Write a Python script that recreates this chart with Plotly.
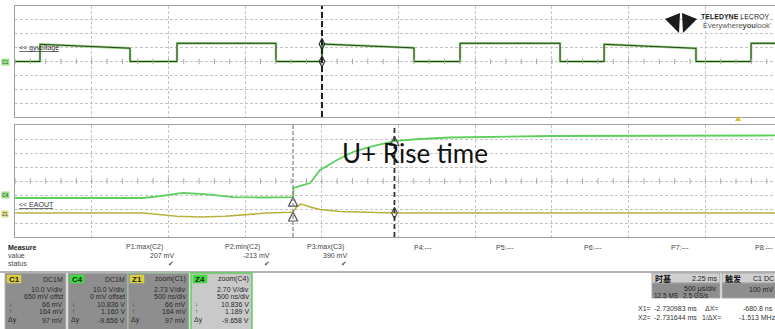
import numpy as np
import plotly.graph_objects as go

W, H = 775, 329

# ---------------- data: top panel (500 us/div, 10 V/div) ----------------
top_window_ms = [-4.732, 0.222]
pulse_rise_ms = [-4.569, -3.676, -2.731, -1.831, -0.892, 0.066]
pulse_fall_ms = [-3.982, -3.031, -2.131, -1.179, -0.293, None]
pulse_top_start_v = [12.4, 13.1, 12.6, 13.1, 12.4, 13.1]
pulse_top_end_v = [9.6, 13.1, 9.8, 13.1, 9.5, 13.1]
baseline_v = 0.0
top_cursor_ms = -2.731

# ---------------- data: bottom zoom panel (500 ns/div) ----------------
zoom_window_ns = [-1812.5, 3141.5]
z4_t_ns = [-1812, -1258, -978, -867, -717, -574, -391, -215, -13, 0, 3, 26, 78, 111,
           176, 287, 391, 502, 665, 828, 1023, 1349, 1675, 3142]
z4_v = [1.02, 1.02, 1.02, 1.40, 1.99, 1.75, 1.20, 1.12, 1.16, 1.19, 2.95, 3.14, 3.53, 3.91,
        6.42, 8.35, 9.89, 10.86, 12.02, 12.40, 12.69, 12.88, 12.98, 13.08]
z1_t_ns = [-1812, -978, -756, -606, -443, -170, -20, 0, 26, 52, 111, 176, 306, 502, 665, 3142]
z1_v = [-1.87, -1.87, -2.50, -2.64, -2.50, -1.87, -1.72, -1.68, -0.60, -0.14, -0.72, -1.20,
        -1.58, -1.77, -1.87, -1.87]
cursor_x2_ns = 0
cursor_x1_ns = 661

# measurement table
meas_names = ["P1:max(C2)", "P2:min(C2)", "P3:max(C3)", "P4:---", "P5:---", "P6:---", "P7:---", "P8:---"]
meas_values = ["207 mV", "-213 mV", "390 mV", "", "", "", "", ""]

# channel descriptor boxes
ch_tags = ["C1", "C4", "Z1", "Z4"]
ch_heads = ["DC1M", "DC1M", "zoom(C1)", "zoom(C4)"]
ch_line1 = ["10.0 V/div", "10.0 V/div", "2.73 V/div", "2.70 V/div"]
ch_line2 = ["650 mV offst", "0 mV offset", "500 ns/div", "500 ns/div"]
ch_low = ["66 mV", "10.836 V", "66 mV", "10.836 V"]
ch_high = ["164 mV", "1.160 V", "164 mV", "1.189 V"]
ch_dy = ["97 mV", "-9.656 V", "97 mV", "-9.658 V"]

# ---------------- build top waveform ----------------
tx, ty = [top_window_ms[0]], [baseline_v]
for r, f, a, b in zip(pulse_rise_ms, pulse_fall_ms, pulse_top_start_v, pulse_top_end_v):
    if f is None:
        tx += [r, r, top_window_ms[1]]
        ty += [baseline_v, a, b]
    else:
        tx += [r, r, f, f]
        ty += [baseline_v, a, b, baseline_v]
if pulse_fall_ms[-1] is not None:
    tx.append(top_window_ms[1]); ty.append(baseline_v)

fig = go.Figure()
fig.add_trace(go.Scatter(x=tx, y=ty, mode="lines", line=dict(color="#8fd47a", width=2.4),
                         xaxis="x", yaxis="y", hoverinfo="skip"))
fig.add_trace(go.Scatter(x=tx, y=ty, mode="lines", line=dict(color="#2f3d22", width=1),
                         xaxis="x", yaxis="y", hoverinfo="skip"))

# center-line tick marks
top_ticks = np.arange(top_window_ms[0], top_window_ms[1], 0.1)
fig.add_trace(go.Scatter(x=top_ticks, y=[0] * len(top_ticks), mode="markers",
                         marker=dict(symbol="line-ns", size=4, line=dict(color="#a8a8a8", width=1)),
                         xaxis="x", yaxis="y", hoverinfo="skip"))
bot_ticks = np.arange(zoom_window_ns[0], zoom_window_ns[1], 100)
fig.add_trace(go.Scatter(x=bot_ticks, y=[4.3] * len(bot_ticks), mode="markers",
                         marker=dict(symbol="line-ns", size=4, line=dict(color="#a8a8a8", width=1)),
                         xaxis="x2", yaxis="y2", hoverinfo="skip"))

fig.add_trace(go.Scatter(x=z1_t_ns, y=z1_v, mode="lines", line=dict(color="#b9b03c", width=1.6),
                         xaxis="x2", yaxis="y2", hoverinfo="skip"))
fig.add_trace(go.Scatter(x=z4_t_ns, y=z4_v, mode="lines", line=dict(color="#5ccf5c", width=1.8),
                         xaxis="x2", yaxis="y2", hoverinfo="skip"))

# cursor markers
fig.add_trace(go.Scatter(x=[cursor_x2_ns, cursor_x2_ns, cursor_x1_ns],
                         y=[z4_v[9], z1_v[7], 12.9], mode="markers",
                         marker=dict(symbol="arrow-up-open", size=9, color="#555",
                                     line=dict(width=1.2, color="#555")),
                         xaxis="x2", yaxis="y2", hoverinfo="skip"))
fig.add_trace(go.Scatter(x=[cursor_x1_ns], y=[-1.87], mode="markers",
                         marker=dict(symbol="diamond-tall-open", size=8, color="#555",
                                     line=dict(width=1.2, color="#555")),
                         xaxis="x2", yaxis="y2", hoverinfo="skip"))
fig.add_trace(go.Scatter(x=[top_cursor_ms, top_cursor_ms], y=[0, 12.6], mode="markers",
                         marker=dict(symbol="diamond-tall-open", size=8, color="#333",
                                     line=dict(width=1.2, color="#333")),
                         xaxis="x", yaxis="y", hoverinfo="skip"))

grid = dict(showgrid=True, gridcolor="#c4c4c4", griddash="3px,2px", gridwidth=1,
            zeroline=False, showticklabels=False, ticks="", showline=True, mirror=True,
            linecolor="#a0a0a0", linewidth=1)
xdom = [15 / W, 1]
fig.update_layout(
    width=W, height=H, margin=dict(l=0, r=0, t=0, b=0),
    paper_bgcolor="white", plot_bgcolor="white", showlegend=False,
    xaxis=dict(domain=xdom, range=top_window_ms, dtick=0.5, tick0=top_window_ms[0],
               anchor="y", **grid),
    yaxis=dict(domain=[1 - 117 / H, 1 - 6 / H], range=[-40, 40], dtick=10, tick0=-40,
               anchor="x", **grid),
    xaxis2=dict(domain=xdom, range=zoom_window_ns, dtick=500, tick0=zoom_window_ns[0],
                anchor="y2", **grid),
    yaxis2=dict(domain=[1 - 237 / H, 1 - 125 / H], range=[-6.5, 15.1], dtick=2.7, tick0=-6.5,
                anchor="x2", **grid),
)

shapes = []
# cursors
shapes.append(dict(type="line", xref="x", yref="y domain", x0=top_cursor_ms, x1=top_cursor_ms,
                   y0=0, y1=1, line=dict(color="#1e1e1e", width=2, dash="6px,3px")))
shapes.append(dict(type="line", xref="x2", yref="y2 domain", x0=cursor_x2_ns, x1=cursor_x2_ns,
                   y0=0, y1=1, line=dict(color="#8a8a8a", width=1.3, dash="4px,2px")))
shapes.append(dict(type="line", xref="x2", yref="y2 domain", x0=cursor_x1_ns, x1=cursor_x1_ns,
                   y0=0, y1=1, line=dict(color="#333", width=1.8, dash="5px,3px")))


def P(x, y):
    return x / W, 1 - y / H


def rect(x0, y0, x1, y1, fill, line="#b0b0b0", lw=1):
    a, b = P(x0, y1)
    c, d = P(x1, y0)
    shapes.append(dict(type="rect", xref="paper", yref="paper", x0=a, y0=b, x1=c, y1=d,
                       fillcolor=fill, line=dict(color=line, width=lw), layer="above"))


def poly(pts, fill):
    s = "M " + " L ".join(f"{P(x, y)[0]:.5f},{P(x, y)[1]:.5f}" for x, y in pts) + " Z"
    shapes.append(dict(type="path", xref="paper", yref="paper", path=s, fillcolor=fill,
                       line=dict(width=0), layer="above"))


ann = []


def txt(x, y, s, size=7, color="#333", anchor="left", family="Arial", bg=None):
    a, b = P(x, y)
    d = dict(xref="paper", yref="paper", x=a, y=b, text=s, showarrow=False,
             xanchor=anchor, yanchor="middle", font=dict(size=size, color=color, family=family),
             borderpad=0)
    if bg:
        d["bgcolor"] = bg
    ann.append(d)


# separator line
a, b = P(0, 272)
c, _ = P(W, 272)
shapes.append(dict(type="line", xref="paper", yref="paper", x0=a, x1=c, y0=b, y1=b,
                   line=dict(color="#9a9a9a", width=1.5)))

# channel boxes
box_x = [(5, 66), (68, 128), (128, 189), (191, 252)]
box_fill = ["#8e8e8e", "#8e8e8e", "#8e8e8e", "#c9c9c9"]
box_line = ["#b8b8b8", "#b8b8b8", "#9bc89b", "#62cc62"]
tag_fill = ["#d8d040", "#3fdc3f", "#d8d040", "#3fdc3f"]
for i in range(4):
    x0, x1 = box_x[i]
    rect(x0, 273, x1, 330, box_fill[i], box_line[i], 1.5 if i == 3 else 1)
    rect(x0 + 2, 275, x0 + 16, 283, tag_fill[i], tag_fill[i], 0.5)
    txt(x0 + 3, 279, "<b>" + ch_tags[i] + "</b>", size=8, color="#222")
    tc = "#2a2a2a"
    txt(x1 - 2, 279, ch_heads[i], color=tc, anchor="right")
    txt(x1 - 2, 289, ch_line1[i], color=tc, anchor="right")
    txt(x1 - 2, 296, ch_line2[i], color=tc, anchor="right")
    txt(x1 - 2, 304, ch_low[i], color=tc, anchor="right")
    txt(x1 - 2, 311, ch_high[i], color=tc, anchor="right")
    txt(x1 - 2, 320, ch_dy[i], color=tc, anchor="right")
    txt(x0 + 3, 304, "↓", size=6, color=tc)
    txt(x0 + 3, 311, "↑", size=6, color=tc)
    txt(x0 + 2, 320, "Δy", size=7, color=tc)

# measurement table
txt(7, 247, "<b>Measure</b>", size=7, color="#222")
txt(7, 255, "value", size=7, color="#444")
txt(7, 263, "status", size=7, color="#444")
col_x = [144, 242, 325, 423, 505, 593, 680, 764]
val_right = [175, 271, 348]
for i, name in enumerate(meas_names):
    txt(col_x[i], 247, name, size=7, color="#444", anchor="center")
    if meas_values[i]:
        txt(val_right[i], 255, meas_values[i], size=7, color="#444", anchor="right")
        txt(val_right[i], 263, "✔", size=7, color="#555", anchor="right")

# timebase / trigger boxes
rect(652, 273, 720, 283, "#d0d0d0", "#a8a8a8")
rect(652, 283, 720, 298, "#8e8e8e", "#a8a8a8")
rect(722, 273, 780, 283, "#d0d0d0", "#a8a8a8")
rect(722, 283, 780, 298, "#8e8e8e", "#a8a8a8")
txt(654, 278, "<b>时基</b>", size=8, color="#111", family="Noto Sans CJK SC")
txt(718, 278, "2.25 ms", size=7, color="#222", anchor="right")
txt(718, 289, "500 µs/div", size=7, color="#222", anchor="right")
txt(653, 295, "12.5 MS", size=6.5, color="#222")
txt(682, 295, "2.5 GS/s", size=6.5, color="#222")
txt(724, 278, "<b>触发</b>", size=8, color="#111", family="Noto Sans CJK SC")
txt(752, 278, "C1 DC", size=7, color="#222")
txt(774, 289, "100 mV", size=7, color="#222", anchor="right")
txt(637, 308, "X1=", size=7, color="#333")
txt(653, 308, "-2.730983 ms", size=7, color="#333")
txt(704, 308, "ΔX=", size=7, color="#333")
txt(742, 308, "-680.8 ns", size=7, color="#333")
txt(637, 317, "X2=", size=7, color="#333")
txt(653, 317, "-2.731644 ms", size=7, color="#333")
txt(701, 317, "1/ΔX=", size=7, color="#333")
txt(738, 317, "-1.513 MHz", size=7, color="#333")

# logo
poly([(665, 19), (680, 13), (679, 33)], "#1c1c1c")
poly([(697, 19), (682, 13), (683, 33)], "#1c1c1c")
txt(700, 17, "<b>TELEDYNE</b> LECROY", size=7, color="#1c1c1c", family="Arial")
txt(702, 26, "Everywhere<b>you</b>look'", size=7.5, color="#555", family="Arial")

# trigger level marker
poly([(735, 121), (741, 121), (738, 116)], "#d8c030")

# trace labels
txt(18, 48, "<u>&lt;&lt; gyvoltage</u>", size=7, color="#333")
txt(18, 205, "<u>&lt;&lt; EAOUT</u>", size=7, color="#333")
txt(1, 62, "C1", size=5, color="#2a5a2a", bg="#9fe08f")
txt(1, 195, "C4", size=5, color="#2a5a2a", bg="#9fe08f")
txt(1, 214, "Z1", size=5, color="#5a5a2a", bg="#e0dc8f")

# big label
txt(341, 153, "U+ Rise time", size=26, color="#111", family="Lato")

fig.update_layout(shapes=shapes, annotations=ann)
fig.write_html("out.html")
